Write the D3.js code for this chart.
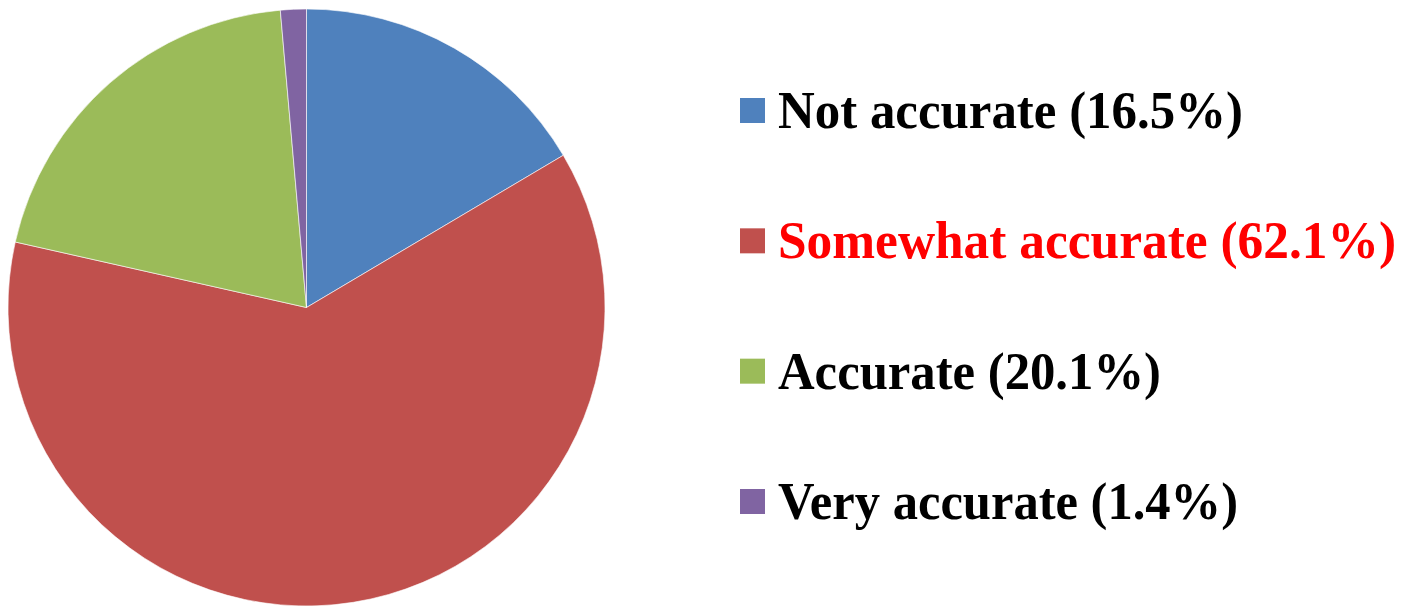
<!DOCTYPE html>
<html><head><meta charset="utf-8">
<script src="https://cdn.jsdelivr.net/npm/d3@7"></script>
<style>html,body{margin:0;padding:0;background:#fff;overflow:hidden}</style>
</head><body>
<svg id="chart" width="1402" height="607"></svg>
<script>
const categories = ["Not accurate", "Somewhat accurate", "Accurate", "Very accurate"];
const values = [16.5, 62.1, 20.1, 1.4];
const labels = ["Not accurate (16.5%)", "Somewhat accurate (62.1%)", "Accurate (20.1%)", "Very accurate (1.4%)"];
const colors = ["#4F81BD", "#C0504D", "#9BBB59", "#8064A2"];
const textColors = ["#000000", "#FF0000", "#000000", "#000000"];
const labelWidths = [465, 618, 383, 460];

const svg = d3.select("#chart");
const cx = 306.5, cy = 307.5, r = 298.5;

const pie = d3.pie().sort(null).value(d => d)(values);
const arc = d3.arc().innerRadius(0).outerRadius(r);

svg.append("g").attr("transform", `translate(${cx},${cy})`)
  .selectAll("path").data(pie).join("path")
  .attr("d", arc)
  .attr("fill", (d, i) => colors[i])
  .attr("stroke", "rgba(255,255,255,0.6)")
  .attr("stroke-width", 1);

const y = d3.scalePoint().domain(categories).range([128, 519]);

const lg = svg.append("g");
const rows = lg.selectAll("g").data(categories).join("g")
  .attr("transform", d => `translate(0,${y(d)})`);
rows.append("rect")
  .attr("x", 740).attr("y", -30).attr("width", 25).attr("height", 25)
  .attr("fill", (d, i) => colors[i]);
rows.append("text")
  .attr("x", 778).attr("y", 0)
  .attr("font-family", "'Liberation Serif', 'DejaVu Serif', serif")
  .attr("font-weight", "bold")
  .attr("font-size", 52)
  .attr("fill", (d, i) => textColors[i])
  .attr("textLength", (d, i) => labelWidths[i])
  .attr("lengthAdjust", "spacingAndGlyphs")
  .text((d, i) => labels[i]);
</script>
</body></html>
